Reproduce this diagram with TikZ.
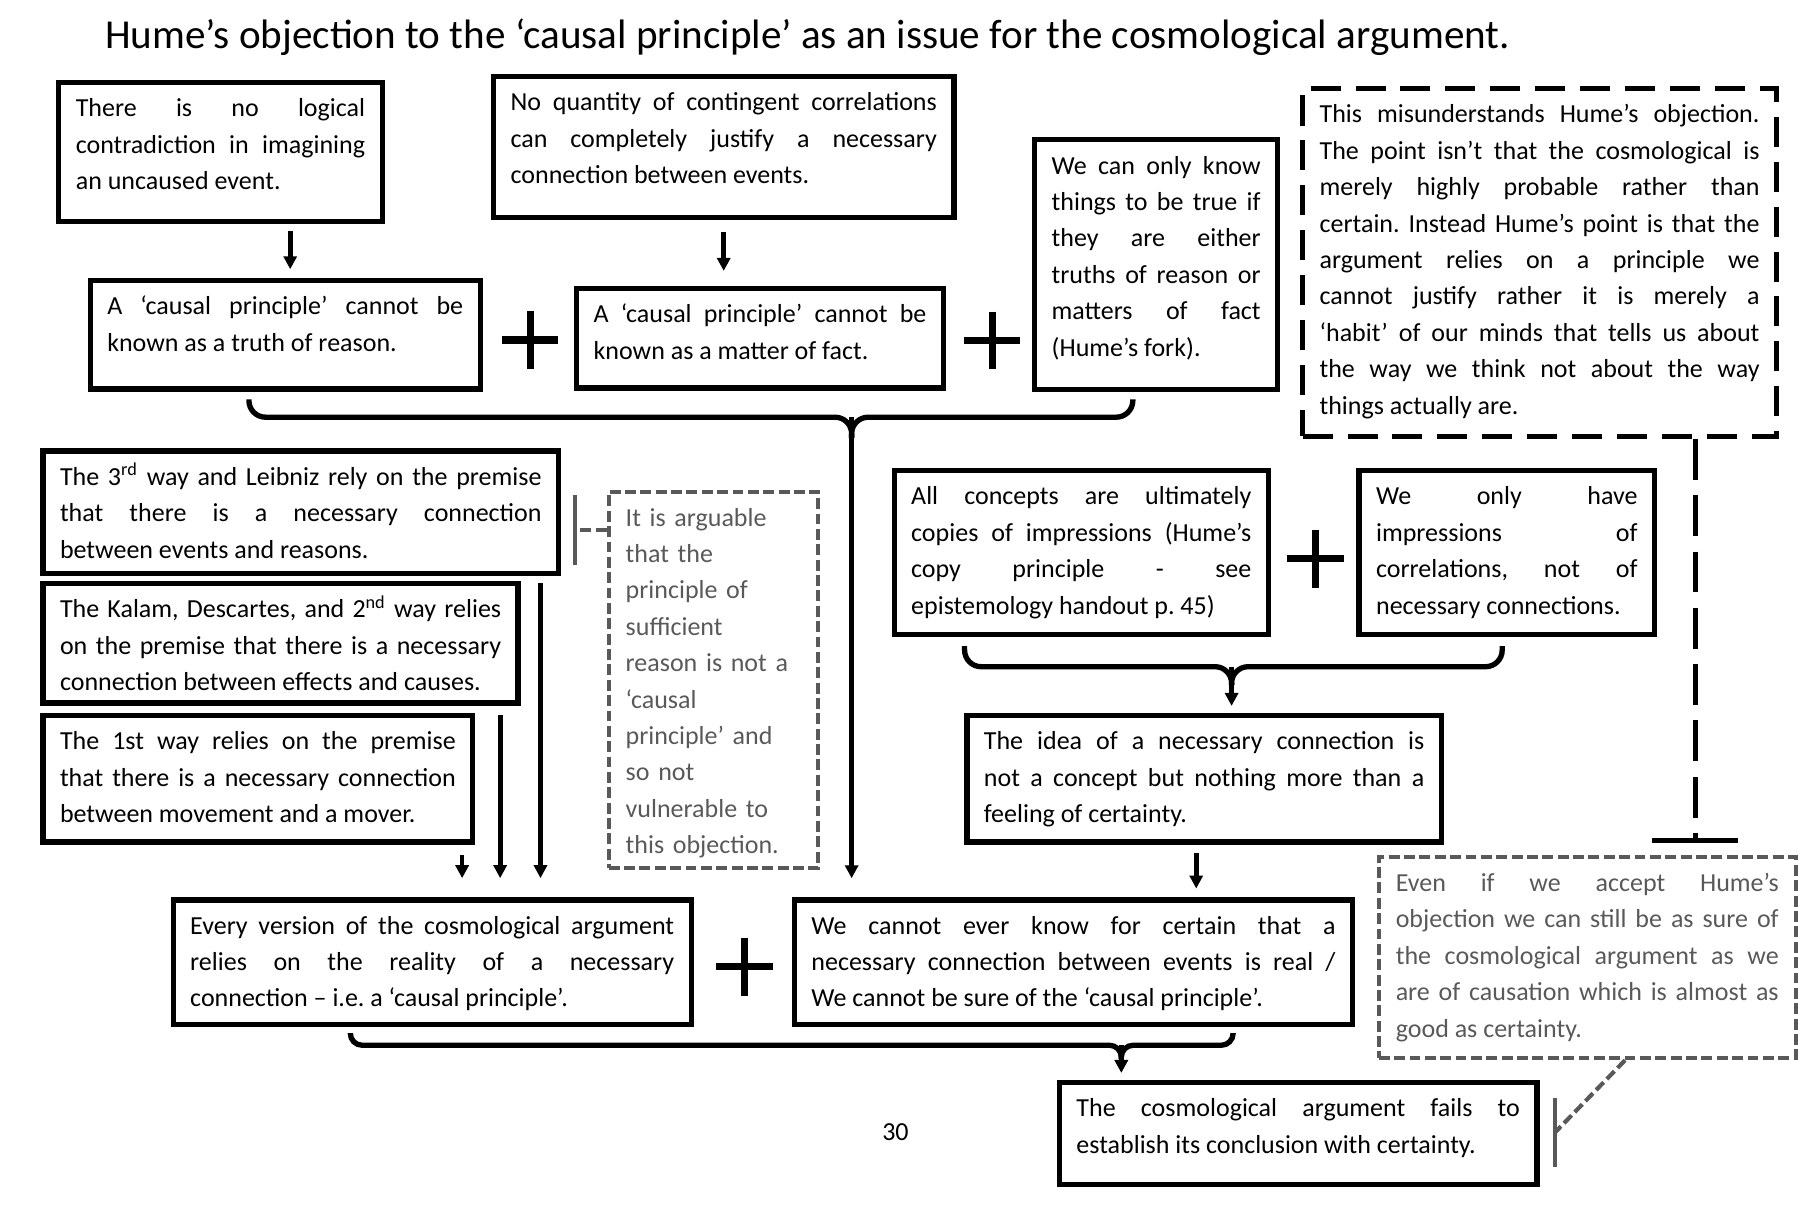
\documentclass[tikz,border=0pt]{standalone}
\usepackage{fontspec}
\setmainfont{Carlito}
\usepackage{tikz}
\usetikzlibrary{positioning,calc,arrows.meta}
\definecolor{notegray}{HTML}{595959}
\tolerance=10000
\hbadness=10000
\hyphenpenalty=10000
\exhyphenpenalty=10000
\frenchspacing

\tikzset{
  every node/.style={font=\fontsize{11}{15.4}\selectfont},
  argbox/.style={draw, line width=2.25pt, anchor=north west, align=justify,
    inner xsep=7.2pt, inner ysep=3.6pt, text height=10.9pt},
  replybox/.style={argbox, dash pattern=on 12.7pt off 6.3pt},
  notebox/.style={argbox, line width=1.75pt, draw=notegray, text=notegray,
    dash pattern=on 4.6pt off 1.9pt},
  arr/.style={line width=2pt, -{Triangle[length=5.5pt,width=5.5pt]}},
  brace/.style={line width=2.25pt, rounded corners=7pt},
  noteline/.style={line width=1.75pt, draw=notegray, dash pattern=on 4.6pt off 1.9pt},
}

\begin{document}
\begin{tikzpicture}[x=0.4875pt, y=-0.4875pt]
  \useasboundingbox (0,0) rectangle (1568,1057);
  \node[anchor=base west, inner sep=0pt, font=\fontsize{17.4}{21}\selectfont] (title) at (91,42)
    {Hume’s objection to the ‘causal principle’ as an issue for the cosmological argument.};

  % Hume's fork
  \node[argbox, text width=122.4pt, text depth=40.7pt] (noLogic) at (48.7,69.4)
    {There is no logical\linebreak contradiction in imagining\linebreak an uncaused event.};
  \node[argbox, text width=180.3pt, text depth=41.5pt] (noQuantity) at (426,64.2)
    {No quantity of contingent correlations\linebreak can completely justify a necessary\linebreak connection between events.};
  \node[argbox, text width=150.6pt, text depth=27.9pt] (truthReason) at (76,241)
    {A ‘causal principle’ cannot be\linebreak known as a truth of reason.};
  \node[argbox, text width=140.8pt, text depth=24pt] (matterFact) at (498,248)
    {A ‘causal principle’ cannot be\linebreak known as a matter of fact.};
  \node[argbox, text width=88.4pt, text depth=87.4pt] (humeFork) at (895.5,119)
    {We can only know\linebreak things to be true if\linebreak they are either\linebreak truths of reason or\linebreak matters of fact\linebreak (Hume’s fork).};
  \node[replybox, text width=186.1pt, text depth=129pt] (misread) at (1128,74.6)
    {This misunderstands Hume’s objection.\linebreak The point isn’t that the cosmological is\linebreak merely highly probable rather than\linebreak certain. Instead Hume’s point is that the\linebreak argument relies on a principle we\linebreak cannot justify rather it is merely a\linebreak ‘habit’ of our minds that tells us about\linebreak the way we think not about the way\linebreak things actually are.};

  % the versions of the argument
  \node[argbox, text width=203.7pt, text depth=33.8pt] (thirdWay) at (35,389)
    {The 3\textsuperscript{rd} way and Leibniz rely on the premise\linebreak that there is a necessary connection\linebreak between events and reasons.};
  \node[argbox, text width=186.6pt, text depth=32.5pt] (kalam) at (35,504)
    {The Kalam, Descartes, and 2\textsuperscript{nd} way relies\linebreak on the premise that there is a necessary\linebreak connection between effects and causes.};
  \node[argbox, text width=167.4pt, text depth=35.5pt] (firstWay) at (35,618.5)
    {The 1st way relies on the premise\linebreak that there is a necessary connection\linebreak between movement and a mover.};
  \node[notebox, align=left, text width=74.3pt, text depth=141pt] (arguable) at (526.4,425)
    {It is arguable\\ that the\\ principle of\\ sufficient\\ reason is not a\\ ‘causal\\ principle’ and\\ so not\\ vulnerable to\\ this objection.};

  % copy principle
  \node[argbox, text width=143.9pt, text depth=51.3pt] (copyPrinciple) at (773.6,406)
    {All concepts are ultimately\linebreak copies of impressions (Hume’s\linebreak copy principle - see\linebreak epistemology handout p. 45)};
  \node[argbox, text width=110.6pt, text depth=51.3pt] (onlyImpr) at (1177,406)
    {We only have\linebreak impressions of\linebreak correlations, not of\linebreak necessary connections.};
  \node[argbox, text width=186.3pt, text depth=35.5pt] (feeling) at (836.7,618.5)
    {The idea of a necessary connection is\linebreak not a concept but nothing more than a\linebreak feeling of certainty.};

  % conclusion
  \node[argbox, text width=204.7pt, text depth=34.5pt] (everyVersion) at (148,778.5)
    {Every version of the cosmological argument\linebreak relies on the reality of a necessary\linebreak connection – i.e. a ‘causal principle’.};
  \node[argbox, text width=221.7pt, text depth=34.5pt] (cannotKnow) at (687,778.5)
    {We cannot ever know for certain that a\linebreak necessary connection between events is real /\linebreak We cannot be sure of the ‘causal principle’.};
  \node[notebox, text width=162pt, text depth=66.9pt] (evenIf) at (1194.6,742)
    {Even if we accept Hume’s\linebreak objection we can still be as sure of\linebreak the cosmological argument as we\linebreak are of causation which is almost as\linebreak good as certainty.};
  \node[argbox, text width=187.6pt, text depth=25pt] (fails) at (917,937)
    {The cosmological argument fails to\linebreak establish its conclusion with certainty.};
  \node[anchor=base] (pageNo) at (777,990) {30};

  % plus signs
  \foreach \cx/\cy in {460/295, 861/295.5, 1141.5/485, 646/839}
    \draw[line width=3pt] (\cx-24.5,\cy) -- (\cx+24.5,\cy) (\cx,\cy-25) -- (\cx,\cy+25);

  % arrows
  \draw[arr] ($(noLogic.south)+(60.5,6)$) -- ($(noLogic.south)+(60.5,39)$);
  \draw[arr] ($(noQuantity.south)+(0,10)$) -- ($(noQuantity.south)+(0,44)$);

  \coordinate (knot1) at (739,362);
  \draw[brace] (216,346.5) |- (knot1) -- ++(0,18);
  \draw[brace] (983,346.5) |- (knot1) -- ++(0,18);
  \draw[arr, shorten >=8pt] (knot1) -- (knot1 |- cannotKnow.north);

  \coordinate (knot2) at (1068.7,578.5);
  \draw[brace] (837,560.6) |- (knot2) -- ++(0,16);
  \draw[brace] (1303.5,560.6) |- (knot2) -- ++(0,16);
  \draw[arr, shorten >=2.9pt] (knot2) -- (knot2 |- feeling.north);

  \coordinate (knot3) at (973,907);
  \draw[brace, rounded corners=5pt] (304,896.5) |- (knot3) -- ++(0,12);
  \draw[brace, rounded corners=5pt] (1070,896.5) |- (knot3) -- ++(0,12);
  \draw[arr, shorten >=2.9pt] (knot3) -- (knot3 |- fails.north);

  \coordinate (in1) at (401,762);
  \coordinate (in2) at (434,762);
  \coordinate (in3) at (469,762);
  \coordinate (in4) at (1038,771);
  \draw[arr] ([yshift=-4.4pt]firstWay.south -| in1) -- (in1);
  \draw[arr] ([yshift=-3.9pt]kalam.south -| in2) -- (in2);
  \draw[arr] ([yshift=-2.9pt]thirdWay.south -| in3) -- (in3);
  \draw[arr] ([yshift=-3.4pt]feeling.south -| in4) -- (in4);

  % objections
  \coordinate (stop1) at (1471,731.6);
  \draw[line width=2.25pt, dash pattern=on 17.3pt off 6.5pt, -{Bar[width=36.6pt]}]
    (misread.south -| stop1) -- (stop1);
  \coordinate (tee1) at (497.5,460);
  \draw[noteline, -{Bar[width=29.3pt]}] (arguable.west |- tee1) -- (tee1);
  \coordinate (tee2) at (1349,983);
  \draw[noteline] ([xshift=16pt]evenIf.south) -- (tee2);
  \draw[line width=1.75pt, notegray] ([yshift=14.6pt]tee2) -- ([yshift=-14.6pt]tee2);
\end{tikzpicture}
\end{document}
